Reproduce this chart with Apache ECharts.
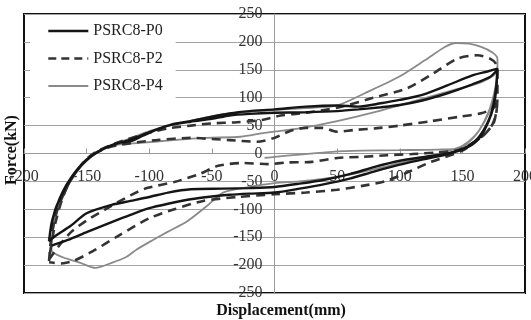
<!DOCTYPE html>
<html>
<head>
<meta charset="utf-8">
<script src="https://cdn.jsdelivr.net/npm/echarts@6/dist/echarts.min.js"></script>
<style>
  html, body { margin: 0; padding: 0; background: #fff; }
  #chart { width: 531px; height: 320px; }
</style>
</head>
<body>
<div id="chart"></div>
<script>
// Hysteresis loops: displacement (mm) vs force (kN)
const seriesNames = ['PSRC8-P0', 'PSRC8-P2', 'PSRC8-P4'];

const p0Disp = [-180,-178,-175,-170,-164,-157,-150,-143,-135,-126,-115,-105,-95,-82,-67,-50,-36,-20,0,25,50,67,85,100,118,138,158,170,178,
  177,175,172,167,160,150,135,120,100,80,60,40,20,0,-20,-41,-67,-85,-100,-115,-130,-150,-163,-175,-180,
  -178,-174,-169,-162,-154,-146,-138,-128,-115,-100,-85,-67,-50,-36,-20,0,25,50,67,85,100,118,138,158,172,178,
  177,175,171,165,155,140,120,100,80,60,40,20,0,-20,-36,-50,-67,-85,-100,-115,-130,-150,-165,-178];
const p0Force = [-155,-128,-100,-75,-50,-28,-12,0,10,18,22,32,42,52,58,66,72,76,79,84,86,84,90,96,105,122,140,147,152,
  120,90,65,42,22,8,-1,-6,-13,-24,-37,-47,-54,-60,-62,-63,-64,-70,-78,-85,-92,-107,-130,-148,-157,
  -125,-95,-68,-42,-20,-4,7,16,25,38,50,57,62,68,71,73,74,76,79,83,87,95,108,124,137,150,
  115,85,58,32,12,0,-10,-20,-32,-45,-55,-63,-70,-72,-74,-77,-82,-90,-98,-110,-123,-141,-155,-165];

const p2Disp = [-180,-179,-177,-174,-169,-162,-154,-145,-135,-125,-110,-94,-67,-50,-36,-14,0,12,25,38,50,63,80,100,125,148,165,175,178,
  177,174,168,158,146,130,110,90,70,50,30,10,-5,-25,-45,-60,-80,-102,-115,-135,-150,-162,-172,-180,
  -178,-175,-171,-166,-159,-151,-143,-132,-118,-100,-85,-67,-50,-30,-10,5,25,50,76,106,127,146,162,172,177,
  178,178,177,175,168,150,125,105,88,70,50,25,0,-30,-57,-80,-100,-125,-145,-160,-170,-180];
const p2Force = [-193,-165,-135,-105,-75,-45,-20,-2,9,15,20,24,28,26,24,21,28,40,46,46,39,42,45,50,58,66,72,82,96,
  72,52,35,18,6,2,-1,-3,-6,-8,-15,-16,-19,-17,-22,-37,-51,-62,-75,-100,-120,-140,-165,-190,
  -160,-125,-92,-62,-35,-12,2,14,25,37,45,50,54,56,60,68,73,82,98,117,144,170,176,170,160,
  130,100,75,55,35,5,-15,-35,-50,-58,-65,-70,-73,-78,-85,-100,-116,-148,-175,-192,-197,-195];

const p4Disp = [-178,-177,-175,-171,-165,-158,-150,-143,-135,-125,-107,-81,-54,-27,-8,20,50,80,110,140,163,175,178,
  177,174,168,160,150,135,120,100,80,60,40,20,0,-20,-41,-55,-70,-85,-97,-110,-118,-130,-143,-155,-169,-178,
  -177,-174,-169,-163,-155,-146,-138,-128,-115,-100,-80,-60,-36,0,30,50,72,99,120,136,145,155,165,174,178,
  178,176,171,163,155,148,130,99,70,46,20,0,-8];
const p4Force = [-172,-140,-110,-80,-54,-30,-12,0,9,16,19,24,28,30,37,45,58,74,93,112,126,140,152,
  120,90,58,32,14,2,-7,-17,-28,-38,-45,-50,-53,-60,-70,-96,-122,-140,-155,-172,-185,-196,-205,-196,-186,-174,
  -140,-108,-78,-50,-25,-5,7,17,27,40,52,62,72,78,82,86,108,137,167,191,198,197,191,181,170,
  150,115,75,40,20,9,7,6,5,3,-2,-6,-8];

const xTicks = { min: -200, max: 200, step: 50 };
const yTicks = { min: -250, max: 250, step: 50 };

function pairs(xs, ys) {
  return xs.map((x, i) => [x, ys[i]]);
}

const serif = 'Liberation Serif, Times New Roman, serif';
const lineColors = ['#151515', '#333333', '#8a8a8a'];
const lineWidths = [2.4, 2.6, 1.8];
const lineTypes = ['solid', [9, 6], 'solid'];

// plot box in pixels; axes are shifted so they cross at the origin
const box = { left: 24, right: 6, top: 14, bottom: 27, width: 531, height: 320 };
const plotW = box.width - box.left - box.right;
const plotH = box.height - box.top - box.bottom;
const yAxisShift = -plotW * (0 - xTicks.min) / (xTicks.max - xTicks.min);
const xAxisShift = -plotH * (0 - yTicks.min) / (yTicks.max - yTicks.min);

const chart = echarts.init(document.getElementById('chart'), null, { renderer: 'canvas' });

chart.setOption({
  animation: false,
  backgroundColor: '#fff',
  grid: {
    left: box.left, right: box.right, top: box.top, bottom: box.bottom,
    outerBoundsMode: 'none', containLabel: false,
    show: true, borderColor: '#111', borderWidth: 2, backgroundColor: 'transparent'
  },
  legend: {
    data: seriesNames.map((name, i) => ({
      name: name,
      itemStyle: { opacity: 0 },
      lineStyle: { color: lineColors[i], width: lineWidths[i], type: i === 1 ? [8, 5] : 'solid' }
    })),
    orient: 'vertical',
    left: 30, top: 15,
    backgroundColor: '#fff',
    padding: [8, 13, 8, 17],
    itemWidth: 40, itemHeight: 16, itemGap: 11.5,
    textStyle: { fontFamily: serif, fontSize: 16, color: '#222' }
  },
  xAxis: {
    type: 'value',
    min: xTicks.min, max: xTicks.max, interval: xTicks.step,
    offset: xAxisShift,
    axisLine: { onZero: false, lineStyle: { color: '#999', width: 1 } },
    axisTick: { show: true, inside: true, length: 5, lineStyle: { color: '#999' } },
    axisLabel: { fontFamily: serif, fontSize: 16, color: '#333', margin: 15 },
    splitLine: { show: false }
  },
  yAxis: {
    type: 'value',
    min: yTicks.min, max: yTicks.max, interval: yTicks.step,
    offset: yAxisShift,
    axisLine: { onZero: false, lineStyle: { color: '#999', width: 1 } },
    axisTick: { show: false },
    axisLabel: { fontFamily: serif, fontSize: 16, color: '#333', margin: 12 },
    splitLine: { show: true, lineStyle: { color: '#a3a3a3', width: 1 } }
  },
  graphic: [
    {
      type: 'text', x: 12, y: 150, rotation: Math.PI / 2,
      style: { text: 'Force(kN)', font: 'bold 16px ' + serif, fill: '#111', textAlign: 'center', textVerticalAlign: 'middle' }
    },
    {
      type: 'text', x: 281, y: 311,
      style: { text: 'Displacement(mm)', font: 'bold 16px ' + serif, fill: '#111', textAlign: 'center', textVerticalAlign: 'middle' }
    }
  ],
  series: [
    { data: pairs(p0Disp, p0Force), z: 4 },
    { data: pairs(p2Disp, p2Force), z: 3 },
    { data: pairs(p4Disp, p4Force), z: 2 }
  ].map((s, i) => ({
    name: seriesNames[i], type: 'line', data: s.data, z: s.z,
    symbol: 'none', showSymbol: false, smooth: 0.25,
    lineStyle: { color: lineColors[i], width: lineWidths[i], type: lineTypes[i] },
    itemStyle: { color: lineColors[i] }
  }))
});
</script>
</body>
</html>
